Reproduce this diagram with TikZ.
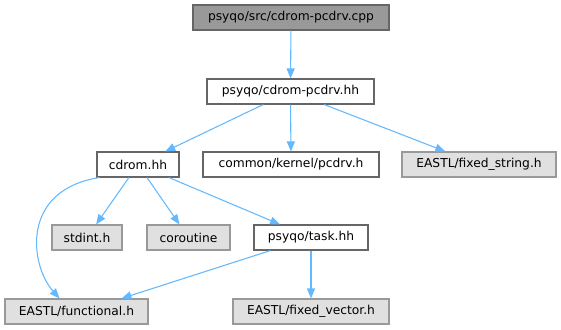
\documentclass[tikz,border=0pt]{standalone}
\usepackage{fontspec}
\setmainfont{DejaVu Sans}
\usetikzlibrary{arrows.meta}
\definecolor{edgeblue}{HTML}{63B8FF}
\definecolor{grayfill}{HTML}{E0E0E0}
\definecolor{grayline}{HTML}{999999}
\definecolor{darkline}{HTML}{666666}
\definecolor{topfill}{HTML}{999999}
\tikzset{
  base/.style={rectangle, inner sep=0pt, minimum height=25*0.75pt, line width=0.8pt, font=\fontsize{9.2}{11}\selectfont},
  whitebox/.style={base, draw=darkline, fill=white},
  graybox/.style={base, draw=grayline, fill=grayfill},
  topbox/.style={base, draw=darkline, fill=topfill},
  edge/.style={draw=edgeblue, line width=0.8pt, -{Triangle[length=7.5pt,width=6pt]}}
}
\begin{document}
\begin{tikzpicture}[x=0.75pt,y=-0.75pt]
\useasboundingbox (0,0) rectangle (561,329);
\node[topbox, minimum width=196*0.75pt] (top) at (291,17.5) {psyqo/src/cdrom-pcdrv.cpp};
\node[whitebox, minimum width=167*0.75pt] (hh) at (290.5,91.5) {psyqo/cdrom-pcdrv.hh};
\node[whitebox, minimum width=82*0.75pt] (cdrom) at (138,164.5) {cdrom.hh};
\node[whitebox, minimum width=176*0.75pt] (pcdrv) at (291,164.5) {common/kernel/pcdrv.h};
\node[graybox, minimum width=154*0.75pt] (fstr) at (479,164.5) {EASTL/fixed\_string.h};
\node[graybox, minimum width=70*0.75pt] (stdint) at (87,237.5) {stdint.h};
\node[graybox, minimum width=83*0.75pt] (corou) at (188.5,237.5) {coroutine};
\node[whitebox, minimum width=114*0.75pt] (task) at (311,237.5) {psyqo/task.hh};
\node[graybox, minimum width=143*0.75pt] (func) at (76.5,311.5) {EASTL/functional.h};
\node[graybox, minimum width=156*0.75pt] (fvec) at (311,311.5) {EASTL/fixed\_vector.h};

\draw[edge] (top) -- (hh);
\draw[edge] (hh) -- (cdrom);
\draw[edge] (hh) -- (pcdrv);
\draw[edge] (hh) -- (fstr);
\draw[edge] ([xshift=3*0.75pt]cdrom.south west) .. controls (20,190) and (30,265) .. ([xshift=55*0.75pt]func.north west);
\draw[edge] (cdrom) -- (stdint);
\draw[edge] (cdrom) -- (corou);
\draw[edge] (cdrom) -- (task);
\draw[edge] (task) -- ([xshift=45*0.75pt]func.north);
\draw[edge] (task) -- (fvec);
\end{tikzpicture}
\end{document}
